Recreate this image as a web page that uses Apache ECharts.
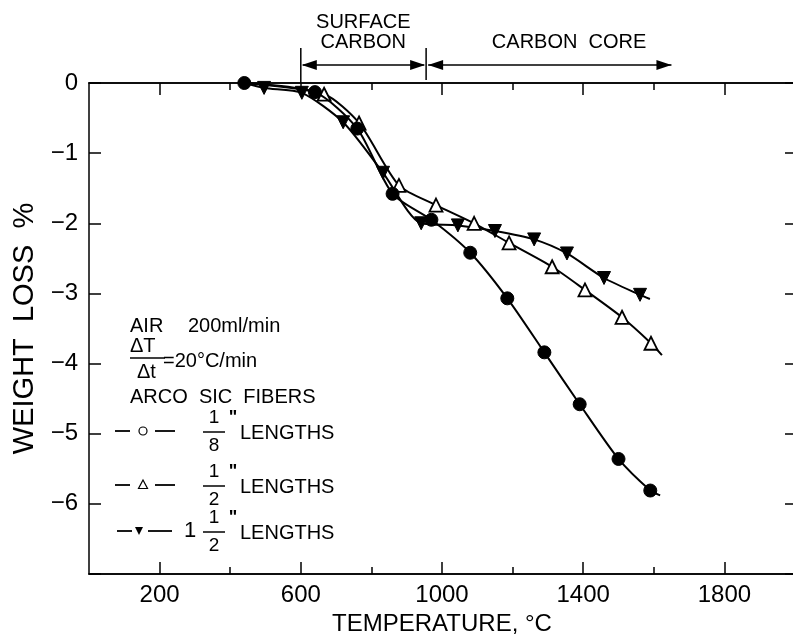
<!DOCTYPE html>
<html><head><meta charset="utf-8">
<script src="https://cdn.jsdelivr.net/npm/echarts@6/dist/echarts.min.js"></script>
<style>html,body{margin:0;padding:0;background:#fff}#c{width:793px;height:636px}</style>
</head><body><div id="c"></div>
<script>
// ---- data (temperature °C, weight loss %) ----
const circleData = [[440,0],[640,-0.13],[760,-0.65],[860,-1.58],[970,-1.95],[1080,-2.42],[1185,-3.07],[1290,-3.84],[1390,-4.58],[1500,-5.36],[1590,-5.81]];
const circleEnd = [1618,-5.88];
const triData = [[666,-0.16],[765,-0.57],[878,-1.46],[983,-1.74],[1091,-2.0],[1190,-2.28],[1312,-2.62],[1405,-2.95],[1510,-3.34],[1592,-3.71]];
const triStart = [440,0];
const triEnd = [1623,-3.88];
const invTriData = [[496,-0.07],[603,-0.14],[720,-0.56],[833,-1.28],[941,-2.0],[1045,-2.03],[1150,-2.11],[1261,-2.23],[1354,-2.43],[1459,-2.78],[1561,-3.02]];
const invTriStart = [440,0];
const invTriEnd = [1589,-3.08];
const xLabelTicks = [200,600,1000,1400,1800];
const xShortTicks = [400,800,1200,1600];
const yTicks = [0,-1,-2,-3,-4,-5,-6,-7];
const yLabelTicks = [0,-1,-2,-3,-4,-5,-6];
const regionBounds = [600,955,1650];
const regionLabelX = [777,1360];

const FONT = 'Liberation Sans';
const chart = echarts.init(document.getElementById('c'), null, {renderer:'canvas'});

function noSym(p){ return {value:p, symbol:'none'}; }

const lineStyle = {color:'#000', width:2};
const axisLine = {show:true, onZero:false, lineStyle:{color:'#000', width:1.5}};

const xBase = {type:'value', min:0, max:2000, interval:200, splitLine:{show:false}, axisLine: axisLine};

chart.setOption({
  animation:false,
  backgroundColor:'#fff',
  grid:{left:89, top:83, right:-2, bottom:62, containLabel:false, outerBoundsMode:'none'},
  xAxis:[
    Object.assign({}, xBase, {position:'bottom',
      name:'TEMPERATURE, °C', nameLocation:'middle', nameGap:38,
      nameTextStyle:{fontFamily:FONT, fontSize:24, color:'#000'},
      axisTick:{show:true, inside:true, length:12, customValues:xLabelTicks, lineStyle:{color:'#000', width:1.5}},
      axisLabel:{show:true, customValues:xLabelTicks, margin:9, fontFamily:FONT, fontSize:24, color:'#000',
        formatter:v => String(v)}}),
    Object.assign({}, xBase, {position:'bottom',
      axisTick:{show:true, inside:true, length:7, customValues:xShortTicks, lineStyle:{color:'#000', width:1.5}},
      axisLabel:{show:false}}),
    Object.assign({}, xBase, {position:'top',
      axisTick:{show:true, inside:true, length:12, customValues:xLabelTicks, lineStyle:{color:'#000', width:1.5}},
      axisLabel:{show:false}}),
    Object.assign({}, xBase, {position:'top',
      axisTick:{show:true, inside:true, length:7, customValues:xShortTicks, lineStyle:{color:'#000', width:1.5}},
      axisLabel:{show:false}})
  ],
  yAxis:[
    {type:'value', min:-7, max:0, interval:1, position:'left', splitLine:{show:false}, axisLine:axisLine,
      name:'WEIGHT  LOSS  %', nameLocation:'middle', nameGap:50, nameRotate:90,
      nameTextStyle:{fontFamily:FONT, fontSize:29, color:'#000'},
      axisTick:{show:true, inside:true, length:12, customValues:yTicks, lineStyle:{color:'#000', width:1.5}},
      axisLabel:{show:true, customValues:yLabelTicks, margin:11, fontFamily:FONT, fontSize:24, color:'#000',
        formatter:v => (v < 0 ? '\u2212' + Math.abs(v) : String(v))}},
    {type:'value', min:-7, max:0, interval:1, position:'right', splitLine:{show:false}, axisLine:axisLine,
      axisTick:{show:true, inside:true, length:10, customValues:yTicks, lineStyle:{color:'#000', width:1.5}},
      axisLabel:{show:false}}
  ],
  series:[
    {type:'line', name:'1 1/2"', xAxisIndex:0, yAxisIndex:0, smooth:0.25,
      data:[noSym(invTriStart)].concat(invTriData, [noSym(invTriEnd)]),
      symbol:'triangle', symbolRotate:180, symbolSize:13, showAllSymbol:true,
      itemStyle:{color:'#000', borderColor:'#000', borderWidth:1}, lineStyle:lineStyle, z:3},
    {type:'line', name:'1/2"', xAxisIndex:0, yAxisIndex:0, smooth:0.25,
      data:[noSym(triStart)].concat(triData, [noSym(triEnd)]),
      symbol:'triangle', symbolSize:13, showAllSymbol:true,
      itemStyle:{color:'#fff', borderColor:'#000', borderWidth:1.8}, lineStyle:lineStyle, z:4},
    {type:'line', name:'1/8"', xAxisIndex:0, yAxisIndex:0, smooth:0.25,
      data:circleData.concat([noSym(circleEnd)]),
      symbol:'circle', symbolSize:13, showAllSymbol:true,
      itemStyle:{color:'#000', borderColor:'#000', borderWidth:1}, lineStyle:lineStyle, z:5}
  ]
});

// ---- annotations and legend block ----
function px(x){ return chart.convertToPixel({xAxisIndex:0, yAxisIndex:0}, [x, 0])[0]; }
const topY = chart.convertToPixel({xAxisIndex:0, yAxisIndex:0}, [0, 0])[1];
const arrowY = 65;
const g = [];
const T = (text, x, y, size, align, extra) => Object.assign({type:'text', x:x, y:y, style:Object.assign({text:text, fontFamily:FONT, fontSize:size, fill:'#000', align:align||'left', verticalAlign:'middle'}, extra||{})});
const L = (x1,y1,x2,y2,w) => ({type:'line', shape:{x1:x1,y1:y1,x2:x2,y2:y2}, style:{stroke:'#000', lineWidth:w||1.5}});
function head(x, y, dir){ // dir -1 left, +1 right
  return {type:'polygon', shape:{points:[[x,y],[x-dir*15,y-5],[x-dir*15,y+5]]}, style:{fill:'#000'}};
}
const b = regionBounds.map(px);
g.push(L(b[0], 48, b[0], topY, 1.5));
g.push(L(b[1], 48, b[1], topY-3, 1.5));
g.push(L(b[0]+2, arrowY, b[1]-2, arrowY, 1.5), head(b[0]+1, arrowY, -1), head(b[1]-1, arrowY, 1));
g.push(L(b[1]+2, arrowY, b[2], arrowY, 1.5), head(b[1]+2, arrowY, -1), head(b[2], arrowY, 1));
g.push(T('SURFACE', px(regionLabelX[0]), 22, 20, 'center'));
g.push(T('CARBON', px(regionLabelX[0]), 42, 20, 'center'));
g.push(T('CARBON  CORE', px(regionLabelX[1]), 42, 20, 'center'));

// legend text block
const LF = 20;
g.push(T('AIR', 130, 326, LF), T('200ml/min', 188, 326, LF));
g.push(T('\u0394T', 130, 346, LF), L(130, 358, 165, 358, 1.5), T('\u0394t', 137, 372, LF));
g.push(T('=20\u00B0C/min', 163, 361, LF));
g.push(T('ARCO  SIC  FIBERS', 130, 397, LF));
const rows = [
  {y:431, sym:'circle', num:'1', den:'8'},
  {y:485, sym:'tri', num:'1', den:'2'},
  {y:531, sym:'inv', num:'1', den:'2'}
];
rows.forEach(r => {
  if (r.sym === 'inv') {
    g.push(L(117, r.y, 132, r.y, 1.8), L(148, r.y, 172, r.y, 1.8));
    g.push({type:'polygon', shape:{points:[[135,r.y-4],[143,r.y-4],[139,r.y+4]]}, style:{fill:'#000'}});
    g.push(T('1', 184, r.y, 22));
  } else {
    g.push(L(115, r.y, 130, r.y, 1.8), L(155, r.y, 175, r.y, 1.8));
    if (r.sym === 'circle') g.push({type:'circle', shape:{cx:143, cy:r.y, r:4}, style:{fill:'#fff', stroke:'#000', lineWidth:1.2}});
    else g.push({type:'polygon', shape:{points:[[143,r.y-5],[147.5,r.y+3.5],[138.5,r.y+3.5]]}, style:{fill:'#fff', stroke:'#000', lineWidth:1.2}});
  }
  g.push(T(r.num, 214, r.y-13, 19, 'center'));
  g.push(L(203, r.y+1, 225, r.y+1, 1.5));
  g.push(T(r.den, 214, r.y+15, 19, 'center'));
  g.push(T('"', 233, r.y-13, 18, 'center', {fontWeight:'bold'}));
  g.push(T('LENGTHS', 240, r.y+2, LF));
});
chart.setOption({graphic:g});
</script>
</body></html>
